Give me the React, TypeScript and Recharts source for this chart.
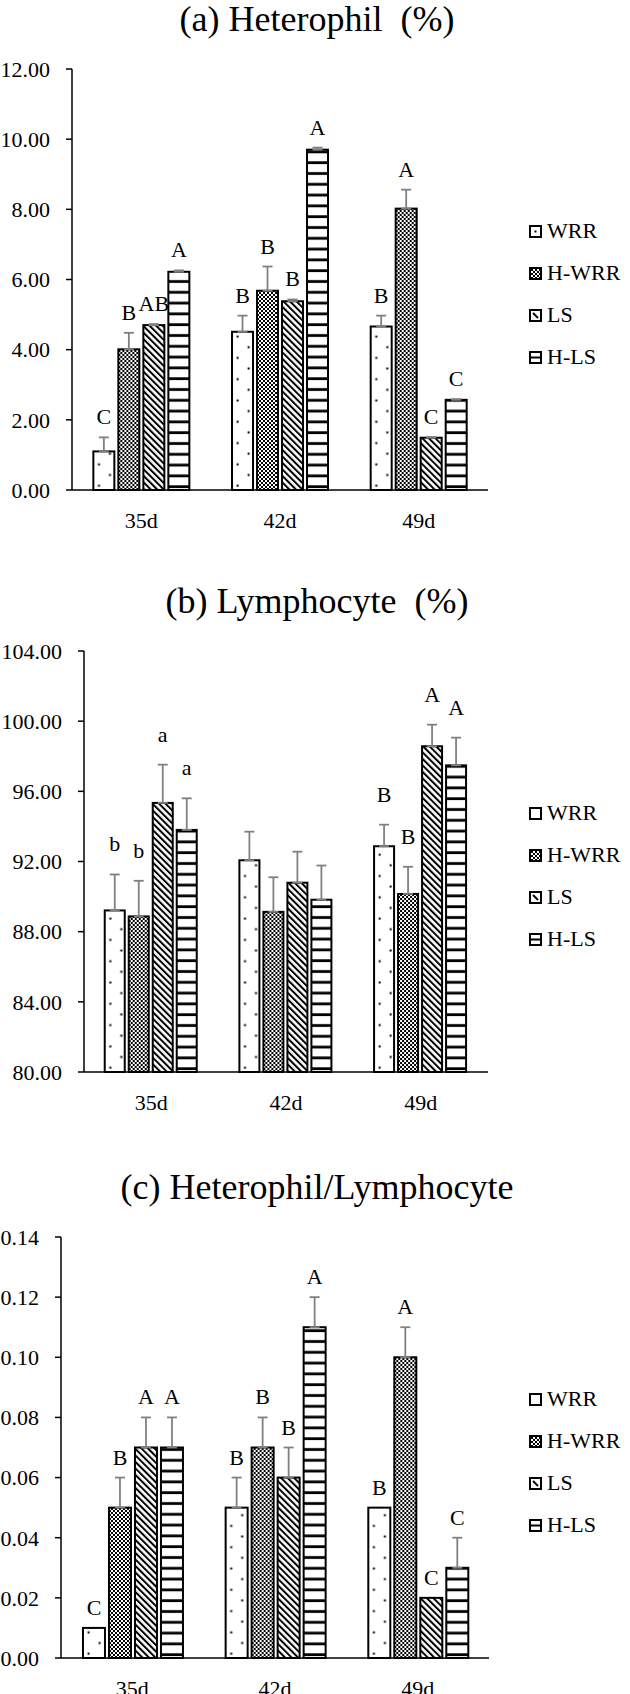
import React from "react";
import { Bar, BarChart, ErrorBar, Legend, XAxis, YAxis } from "recharts";

const FONT = "'Times New Roman', 'Liberation Serif', Times, serif";

const days = ["35d", "42d", "49d"];
const groups = ["WRR", "H-WRR", "LS", "H-LS"];

// (a) Heterophil (%)
const hetWRR = [1.1, 4.51, 4.66];
const hetHWRR = [4.01, 5.68, 8.02];
const hetLS = [4.7, 5.38, 1.49];
const hetHLS = [6.22, 9.7, 2.57];
const hetWRRErr = [0.4, 0.46, 0.31];
const hetHWRRErr = [0.47, 0.69, 0.54];
const hetLSErr = [0.03, 0.05, 0.02];
const hetHLSErr = [0.04, 0.06, 0.02];
const hetLetters = [
  ["C", "B", "B"],
  ["B", "B", "A"],
  ["AB", "B", "C"],
  ["A", "A", "C"],
];
const hetTicks = [0, 2, 4, 6, 8, 10, 12];

// (b) Lymphocyte (%)
const lymWRR = [89.21, 92.07, 92.87];
const lymHWRR = [88.87, 89.13, 90.15];
const lymLS = [95.34, 90.79, 98.57];
const lymHLS = [93.8, 89.82, 97.48];
const lymWRRErr = [2.05, 1.63, 1.23];
const lymHWRRErr = [2.03, 1.97, 1.55];
const lymLSErr = [2.18, 1.77, 1.23];
const lymHLSErr = [1.8, 1.95, 1.58];
const lymLetters = [
  ["b", "", "B"],
  ["b", "", "B"],
  ["a", "", "A"],
  ["a", "", "A"],
];
const lymTicks = [80, 84, 88, 92, 96, 100, 104];

// (c) Heterophil/Lymphocyte
const hlWRR = [0.01, 0.05, 0.05];
const hlHWRR = [0.05, 0.07, 0.1];
const hlLS = [0.07, 0.06, 0.02];
const hlHLS = [0.07, 0.11, 0.03];
const hlWRRErr = [0, 0.01, 0];
const hlHWRRErr = [0.01, 0.01, 0.01];
const hlLSErr = [0.01, 0.01, 0];
const hlHLSErr = [0.01, 0.01, 0.01];
const hlLetters = [
  ["C", "B", "B"],
  ["B", "B", "A"],
  ["A", "B", "C"],
  ["A", "A", "C"],
];
const hlTicks = [0, 0.02, 0.04, 0.06, 0.08, 0.1, 0.12, 0.14];

type Row = Record<string, string | number>;

function buildRows(values: number[][], errs: number[][], letters: string[][]): Row[] {
  return days.map((day, d) => {
    const row: Row = { day };
    values.forEach((v, i) => {
      row[`s${i}`] = v[d];
      row[`e${i}`] = errs[i][d];
      row[`l${i}`] = letters[i][d];
    });
    return row;
  });
}

const patternIds = ["pat-wrr", "pat-hwrr", "pat-ls", "pat-hls"];
const CH = 560;
const PLOT_TOP = 69;

function Patterns() {
  return (
    <svg width={0} height={0} style={{ position: "absolute" }}>
      <defs>
        <pattern id="pat-wrr" patternUnits="userSpaceOnUse" width={22} height={21.3}>
          <rect width={22} height={21.3} fill="#fff" />
          <rect x={4.6} y={16} width={2} height={2} fill="#000" />
          <rect x={15.6} y={5.3} width={2} height={2} fill="#000" />
        </pattern>
        <pattern id="pat-hwrr" patternUnits="userSpaceOnUse" width={4} height={4}>
          <rect width={4} height={4} fill="#fff" />
          <rect width={2} height={2} fill="#000" />
          <rect x={2} y={2} width={2} height={2} fill="#000" />
        </pattern>
        <pattern id="pat-ls" patternUnits="userSpaceOnUse" width={4.6} height={4.6} patternTransform="rotate(-45)">
          <rect width={4.6} height={4.6} fill="#fff" />
          <rect width={2} height={4.6} fill="#000" />
        </pattern>
        <pattern id="pat-hls" patternUnits="userSpaceOnUse" width={10} height={10.8}>
          <rect width={10} height={10.8} fill="#fff" />
          <rect y={6.1} width={10} height={2.8} fill="#000" />
        </pattern>
      </defs>
    </svg>
  );
}

function PatternBar(props: any) {
  const { x, y, width, height, fill, payload, idx, base, lift } = props;
  if (!height || height <= 0) return null;
  const value = payload[`s${idx}`] as number;
  const err = payload[`e${idx}`] as number;
  const letter = payload[`l${idx}`] as string;
  // pixels per unit, taken from the bar the scale already drew
  const pxPerUnit = height / (value - base);
  const errPx = err * pxPerUnit;
  return (
    <g>
      <g transform={`translate(${x},${y + height})`}>
        <rect x={0} y={-height} width={width} height={height} fill={fill} stroke="#000" strokeWidth={2} />
      </g>
      {letter ? (
        <text
          x={x + width / 2}
          y={y - errPx - lift}
          textAnchor="middle"
          fontSize={22}
          fontFamily={FONT}
          fill="#000"
        >
          {letter}
        </text>
      ) : null}
    </g>
  );
}

function Swatch({ i, dot }: { i: number; dot: boolean }) {
  return (
    <svg width={13} height={13} style={{ display: "block", flex: "none" }}>
      <rect x={1} y={1} width={11} height={11} fill={i === 1 ? "url(#pat-hwrr)" : "#fff"} stroke="#000" strokeWidth={2} />
      {i === 0 && dot ? <rect x={5.5} y={5.5} width={2} height={2} fill="#000" /> : null}
      {i === 2 ? <line x1={4} y1={4} x2={9} y2={9} stroke="#000" strokeWidth={2} /> : null}
      {i === 3 ? <line x1={1} y1={6.5} x2={12} y2={6.5} stroke="#000" strokeWidth={2} /> : null}
    </svg>
  );
}

type Spec = {
  title: string;
  top: number;
  axisWidth: number;
  rightMargin: number;
  rows: Row[];
  domain: [number, number];
  ticks: number[];
  lift: number;
  legendDot: boolean;
};

function Panel({ spec }: { spec: Spec }) {
  const { title, top, axisWidth, rightMargin, rows, domain, ticks, lift, legendDot } = spec;
  const renderLegend = () => (
    <div style={{ fontFamily: FONT, fontSize: 22, color: "#000" }}>
      {groups.map((g, i) => (
        <div key={g} style={{ height: 42, display: "flex", alignItems: "center", whiteSpace: "nowrap" }}>
          <Swatch i={i} dot={legendDot} />
          <span style={{ marginLeft: 5, lineHeight: 1 }}>{g}</span>
        </div>
      ))}
    </div>
  );
  return (
    <div style={{ position: "absolute", left: 0, top, width: 630, height: CH }}>
      <div
        style={{
          position: "absolute",
          left: 0,
          top: 1,
          width: 634,
          textAlign: "center",
          fontSize: 36,
          lineHeight: "36px",
          whiteSpace: "pre",
        }}
      >
        {title}
      </div>
      <BarChart
        width={630}
        height={CH}
        data={rows}
        margin={{ top: PLOT_TOP, right: rightMargin, bottom: 30, left: 0 }}
        barCategoryGap="15.4%"
        barGap={4}
      >
        <XAxis
          dataKey="day"
          height={40}
          tickLine={false}
          tickSize={0}
          tickMargin={22}
          axisLine={{ stroke: "#000", strokeWidth: 1.5 }}
          tick={{ fontSize: 22, fill: "#000", fontFamily: FONT }}
        />
        <YAxis
          width={axisWidth}
          domain={domain}
          ticks={ticks}
          interval={0}
          tickFormatter={(v: number) => v.toFixed(2)}
          tickSize={6}
          tickMargin={16}
          axisLine={{ stroke: "#000", strokeWidth: 1.5 }}
          tickLine={{ stroke: "#000", strokeWidth: 1.5 }}
          tick={{ fontSize: 22, fill: "#000", fontFamily: FONT }}
        />
        <Legend
          layout="vertical"
          align="center"
          verticalAlign="middle"
          wrapperStyle={{ left: 529, top: PLOT_TOP + 141, width: 101 }}
          content={renderLegend}
        />
        {groups.map((g, i) => (
          <Bar
            key={g}
            dataKey={`s${i}`}
            name={g}
            fill={`url(#${patternIds[i]})`}
            isAnimationActive={false}
            shape={(p: any) => <PatternBar {...p} idx={i} base={domain[0]} lift={lift} />}
          >
            <ErrorBar
              dataKey={(d: Row) => ((d[`e${i}`] as number) > 0 ? [0, d[`e${i}`] as number] : null)}
              width={5}
              stroke="#808080"
              strokeWidth={1.8}
              isAnimationActive={false}
            />
          </Bar>
        ))}
      </BarChart>
    </div>
  );
}

const specs: Spec[] = [
  {
    title: "(a) Heterophil  (%)",
    top: 0,
    axisWidth: 72,
    rightMargin: 142,
    rows: buildRows([hetWRR, hetHWRR, hetLS, hetHLS], [hetWRRErr, hetHWRRErr, hetLSErr, hetHLSErr], hetLetters),
    domain: [0, 12],
    ticks: hetTicks,
    lift: 13,
    legendDot: true,
  },
  {
    title: "(b) Lymphocyte  (%)",
    top: 582,
    axisWidth: 84,
    rightMargin: 142,
    rows: buildRows([lymWRR, lymHWRR, lymLS, lymHLS], [lymWRRErr, lymHWRRErr, lymLSErr, lymHLSErr], lymLetters),
    domain: [80, 104],
    ticks: lymTicks,
    lift: 23,
    legendDot: false,
  },
  {
    title: "(c) Heterophil/Lymphocyte",
    top: 1168,
    axisWidth: 61,
    rightMargin: 141,
    rows: buildRows([hlWRR, hlHWRR, hlLS, hlHLS], [hlWRRErr, hlHWRRErr, hlLSErr, hlHLSErr], hlLetters),
    domain: [0, 0.14],
    ticks: hlTicks,
    lift: 13,
    legendDot: false,
  },
];

export default function App() {
  return (
    <div
      style={{
        position: "absolute",
        left: 0,
        top: 0,
        width: 630,
        height: 1694,
        overflow: "hidden",
        background: "#fff",
        fontFamily: FONT,
        color: "#000",
      }}
    >
      <Patterns />
      {specs.map((s) => (
        <Panel key={s.title} spec={s} />
      ))}
    </div>
  );
}
